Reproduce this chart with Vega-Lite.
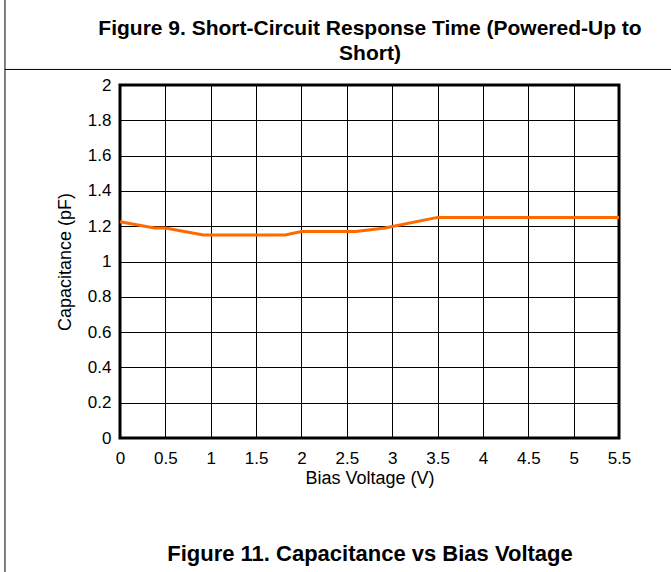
{
  "$schema": "https://vega.github.io/schema/vega-lite/v6.json",
  "width": 499,
  "height": 353,
  "autosize": "none",
  "padding": {"left": 120, "top": 85, "right": 52, "bottom": 134},
  "background": "white",
  "config": {
    "font": "Liberation Sans",
    "view": {"stroke": "black", "strokeWidth": 3},
    "axis": {"labelFont": "Liberation Sans", "titleFont": "Liberation Sans", "labelColor": "black", "titleColor": "black", "titleFontWeight": "normal"}
  },
  "layer": [
    {
      "data": {"values": [
        {"v": 0, "c": 1.225},
        {"v": 0.38, "c": 1.19},
        {"v": 0.5, "c": 1.19},
        {"v": 0.92, "c": 1.15},
        {"v": 1.82, "c": 1.15},
        {"v": 2.0, "c": 1.17},
        {"v": 2.6, "c": 1.17},
        {"v": 2.92, "c": 1.19},
        {"v": 3.5, "c": 1.25},
        {"v": 5.5, "c": 1.25}
      ]},
      "mark": {"type": "line", "color": "#FF6A00", "strokeWidth": 3},
      "encoding": {
        "x": {"field": "v", "type": "quantitative", "scale": {"domain": [0, 5.5], "nice": false, "zero": false},
          "axis": {"title": "Bias Voltage (V)", "values": [0, 0.5, 1, 1.5, 2, 2.5, 3, 3.5, 4, 4.5, 5, 5.5], "format": "~g", "labelOverlap": false, "grid": true, "gridColor": "black", "gridOpacity": 1, "gridWidth": 1, "ticks": false, "domain": false, "labelFontSize": 17, "titleFontSize": 18, "labelPadding": 12, "titlePadding": 3, "labelFlush": false}},
        "y": {"field": "c", "type": "quantitative", "scale": {"domain": [0, 2], "nice": false},
          "axis": {"title": "Capacitance (pF)", "values": [0, 0.2, 0.4, 0.6, 0.8, 1, 1.2, 1.4, 1.6, 1.8, 2], "format": "~g", "labelOverlap": false, "grid": true, "gridColor": "black", "gridOpacity": 1, "gridWidth": 1, "ticks": false, "domain": false, "labelFontSize": 17, "titleFontSize": 18, "labelPadding": 9, "titlePadding": 13, "labelFlush": false}}
      }
    },
    {
      "data": {"values": [{"a": 1}]},
      "mark": {"type": "rule", "color": "black", "strokeWidth": 1},
      "encoding": {
        "x": {"datum": -1.268, "type": "quantitative", "axis": {"orient": "bottom", "title": "Figure 11. Capacitance vs Bias Voltage", "labels": false, "ticks": false, "domain": false, "grid": false, "titleFontSize": 22, "titleFontWeight": "bold", "titlePadding": 105, "titleFont": "Liberation Sans"}},
        "y": {"datum": 2.49, "type": "quantitative", "axis": null},
        "y2": {"datum": -0.76}
      }
    },
    {
      "data": {"values": [{"a": 1}]},
      "mark": {"type": "rule", "color": "black", "strokeWidth": 1},
      "encoding": {
        "x": {"datum": -1.268, "type": "quantitative", "axis": {"orient": "top", "title": ["Figure 9. Short-Circuit Response Time (Powered-Up to", "Short)"], "labels": false, "ticks": false, "domain": false, "grid": false, "titleFontSize": 21, "titleFontWeight": "bold", "titleLineHeight": 25, "titlePadding": 22, "titleFont": "Liberation Sans"}},
        "x2": {"datum": 6.08},
        "y": {"datum": 2.088, "type": "quantitative", "axis": null}
      }
    }
  ],
  "resolve": {"axis": {"x": "independent", "y": "independent"}}
}
